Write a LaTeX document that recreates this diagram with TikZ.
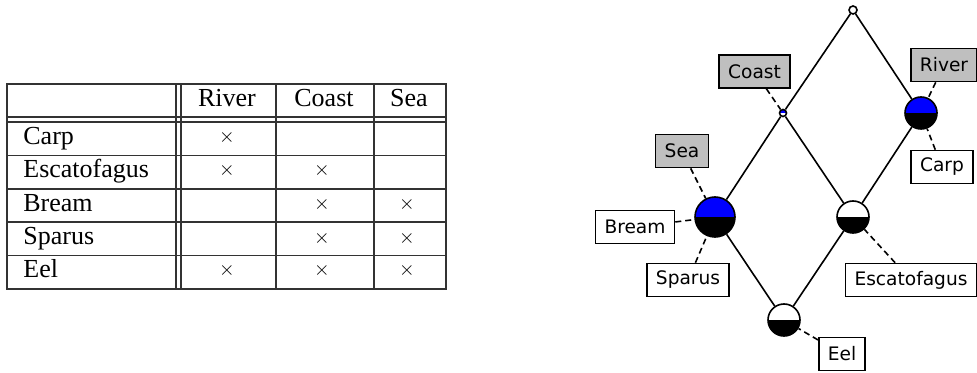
\documentclass[tikz,border=0pt]{standalone}
\usepackage{fontspec}
\setmainfont{Liberation Serif}
\newfontfamily\labelfont{DejaVu Sans}

\begin{document}
\begin{tikzpicture}[
    x = 0.5pt, y = -0.5pt,
    grid/.style = {draw = black!80, line width = 0.7pt},
    cell/.style = {
        anchor = base, inner sep = 0pt,
        font = \fontsize{13}{15}\selectfont
    },
    rowname/.style = {cell, anchor = base west},
    cross/.style = {inner sep = 0pt, font = \fontsize{10}{12}\selectfont},
    concept/.style 2 args = {
        circle, draw, line width = 0.8pt, inner sep = 0pt,
        path picture = {
            \fill[#1] (path picture bounding box.north west) rectangle (path picture bounding box.east);
            \fill[#2] (path picture bounding box.west) rectangle (path picture bounding box.south east);
        }
    },
    attr/.style = {
        rectangle, draw, line width = 0.8pt, fill = gray!50,
        inner xsep = 4.5pt, minimum height = 16.5pt,
        font = \labelfont\fontsize{9.3}{11}\selectfont
    },
    obj/.style = {attr, fill = white},
    edge/.style = {line width = 0.8pt},
    link/.style = {line width = 0.8pt, dash pattern = on 3pt off 2pt}
]

\useasboundingbox (0,0) rectangle (977,373);

% --- Table grid (coordinates in px) ---
\draw[grid] (7,84) rectangle (446,289);
\draw[grid] (7,117) -- (446,117);
\draw[grid] (7,122) -- (446,122);
\draw[grid] (7,155.5) -- (446,155.5);
\draw[grid] (7,189) -- (446,189);
\draw[grid] (7,222) -- (446,222);
\draw[grid] (7,255.5) -- (446,255.5);
\draw[grid] (176,84) -- (176,289);
\draw[grid] (181,84) -- (181,289);
\draw[grid] (276,84) -- (276,289);
\draw[grid] (374,84) -- (374,289);

% --- Table header and rows ---
\node[cell]    (triver)  at (227,107) {River};
\node[cell]    (tcoast)  at (324,107) {Coast};
\node[cell]    (tsea)    at (409,107) {Sea};

\node[rowname] (tcarp)   at (23,145) {Carp};
\node[rowname] (tesc)    at (23,178) {Escatofagus};
\node[rowname] (tbream)  at (23,212) {Bream};
\node[rowname] (tsparus) at (23,245) {Sparus};
\node[rowname] (teel)    at (23,278) {Eel};

\node[cross] (carpR)   at (227,138) {$\times$};
\node[cross] (escR)    at (227,171) {$\times$};
\node[cross] (escC)    at (322,171) {$\times$};
\node[cross] (breamC)  at (322,205) {$\times$};
\node[cross] (breamS)  at (407,205) {$\times$};
\node[cross] (sparusC) at (322,238) {$\times$};
\node[cross] (sparusS) at (407,238) {$\times$};
\node[cross] (eelR)    at (227,271) {$\times$};
\node[cross] (eelC)    at (322,271) {$\times$};
\node[cross] (eelS)    at (407,271) {$\times$};

% --- Lattice concepts ---
\node[concept = {white}{white}, minimum size = 4pt]  (top)    at (853,10)  {};
\node[concept = {blue}{white},  minimum size = 3.5pt] (ncoast) at (783,113) {};
\node[concept = {blue}{black},  minimum size = 16pt] (nriver) at (921,113) {};
\node[concept = {blue}{black},  minimum size = 20pt] (nbream) at (715,217) {};
\node[concept = {white}{black}, minimum size = 16pt] (nesc)   at (853,217) {};
\node[concept = {white}{black}, minimum size = 16pt] (neel)   at (784,320) {};

% --- Labels ---
\node[attr] (lcoast)  at (754.5,71.5) {Coast};
\node[attr] (lriver)  at (944,65)     {River};
\node[attr] (lsea)    at (682,151)    {Sea};
\node[obj]  (lcarp)   at (942,167)    {Carp};
\node[obj]  (lbream)  at (635,227)    {Bream};
\node[obj]  (lsparus) at (688,280)    {Sparus};
\node[obj]  (lesc)    at (911,280)    {Escatofagus};
\node[obj]  (leel)    at (842,354)    {Eel};

% --- Lattice edges ---
\draw[edge] (top)    -- (ncoast);
\draw[edge] (top)    -- (nriver);
\draw[edge] (ncoast) -- (nbream);
\draw[edge] (ncoast) -- (nesc);
\draw[edge] (nriver) -- (nesc);
\draw[edge] (nbream) -- (neel);
\draw[edge] (nesc)   -- (neel);

% --- Label links ---
\draw[link] (lcoast)  -- (ncoast);
\draw[link] (lriver)  -- (nriver);
\draw[link] (lcarp)   -- (nriver);
\draw[link] (lsea)    -- (nbream);
\draw[link] (lbream)  -- (nbream);
\draw[link] (lsparus) -- (nbream);
\draw[link] (lesc)    -- (nesc);
\draw[link] (leel)    -- (neel);

\end{tikzpicture}
\end{document}
